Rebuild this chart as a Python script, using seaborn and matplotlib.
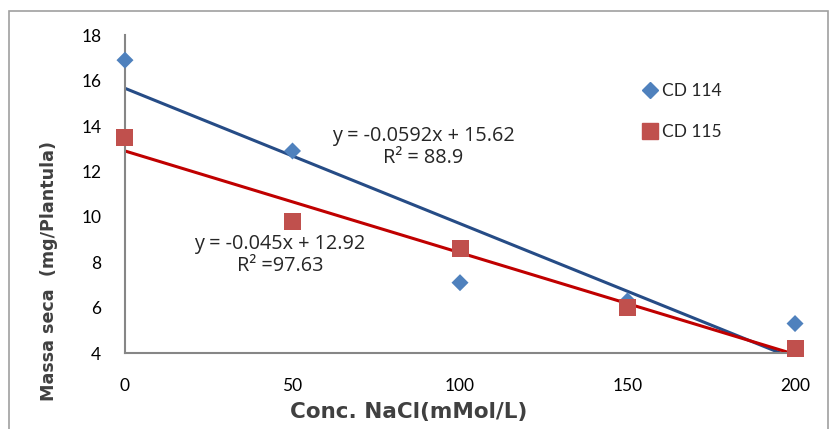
import matplotlib
matplotlib.use("Agg")
import matplotlib.pyplot as plt
import seaborn as sns
import pandas as pd
from matplotlib.patches import Rectangle
from matplotlib.lines import Line2D

conc = [0, 50, 100, 150, 200]
cd114 = [16.9, 12.9, 7.1, 6.3, 5.3]
cd115 = [13.5, 9.8, 8.6, 6.0, 4.2]
series_names = ["CD 114", "CD 115"]
eq_114 = "y = -0.0592x + 15.62\nR² = 88.9"
eq_115 = "y = -0.045x + 12.92\nR² =97.63"
xticks = [0, 50, 100, 150, 200]
yticks = [4, 6, 8, 10, 12, 14, 16, 18]

df = pd.DataFrame({"conc": conc * 2,
                   "massa": cd114 + cd115,
                   "serie": [series_names[0]] * 5 + [series_names[1]] * 5})

sns.set_theme(style="white")
plt.rcParams["font.family"] = ["Lato", "DejaVu Sans"]

fig = plt.figure(figsize=(8.36, 4.29), dpi=100)
ax = fig.add_axes([0.1495, 0.177, 0.8015, 0.741])

marker_blue = "#4F81BD"
marker_red = "#C0504D"
line_blue = "#264C86"
line_red = "#C00000"

d114 = df[df.serie == series_names[0]]
d115 = df[df.serie == series_names[1]]

sns.regplot(data=d114, x="conc", y="massa", ax=ax, scatter=False, ci=None,
            truncate=True, line_kws=dict(color=line_blue, lw=2.2, zorder=2))
sns.regplot(data=d115, x="conc", y="massa", ax=ax, scatter=False, ci=None,
            truncate=True, line_kws=dict(color=line_red, lw=2.2, zorder=2))

sns.scatterplot(data=d114, x="conc", y="massa", ax=ax, marker="D", s=75,
                color=marker_blue, edgecolor="none", zorder=3, clip_on=False,
                legend=False)
sns.scatterplot(data=d115, x="conc", y="massa", ax=ax, marker="s", s=150,
                color=marker_red, edgecolor="none", zorder=3, clip_on=False,
                legend=False)

ax.set_xlim(0, 200)
ax.set_ylim(4, 18)
ax.set_xticks(xticks)
ax.set_yticks(yticks)
ax.tick_params(axis="both", labelsize=12.5, colors="#000000", direction="out",
               length=7, width=1.3, color="#868686")
ax.tick_params(axis="x", pad=11)
ax.tick_params(axis="y", pad=10)
for s in ["top", "right"]:
    ax.spines[s].set_visible(False)
for s in ["left", "bottom"]:
    ax.spines[s].set_color("#868686")
    ax.spines[s].set_linewidth(1.5)

ax.set_xlabel("Conc. NaCl(mMol/L)", fontsize=15.5, color="#404040",
              fontweight="bold", family=["DejaVu Sans"], va="center")
ax.set_ylabel("Massa seca  (mg/Plantula)", fontsize=12.6, color="#404040",
              fontweight="bold", family=["DejaVu Sans"], va="center")
ax.xaxis.set_label_coords(0.424, -0.186)
ax.yaxis.set_label_coords(-0.113, 0.258)

ax.text(423 / 836, 1 - 147 / 429, eq_114, transform=fig.transFigure,
        ha="center", va="center", fontsize=14.3, linespacing=1.15,
        family=["Open Sans", "DejaVu Sans"])
ax.text(280 / 836, 1 - 255 / 429, eq_115, transform=fig.transFigure,
        ha="center", va="center", fontsize=14.3, linespacing=1.15,
        family=["Open Sans", "DejaVu Sans"])

handles = [Line2D([], [], marker="D", color=marker_blue, ls="none", markersize=8),
           Line2D([], [], marker="s", color=marker_red, ls="none", markersize=12)]
fig.legend(handles, series_names, loc="upper left",
           bbox_to_anchor=(624 / 836, 1 - 67 / 429), frameon=False,
           fontsize=12.5, handletextpad=0.1, labelspacing=1.45, handlelength=1.2)

fig.patches.append(Rectangle((9 / 836, -0.05), 819 / 836, 1.05 - 11 / 429,
                             transform=fig.transFigure, fill=False,
                             edgecolor="#A0A0A0", lw=1.2))

fig.savefig("out.png", dpi=100)
